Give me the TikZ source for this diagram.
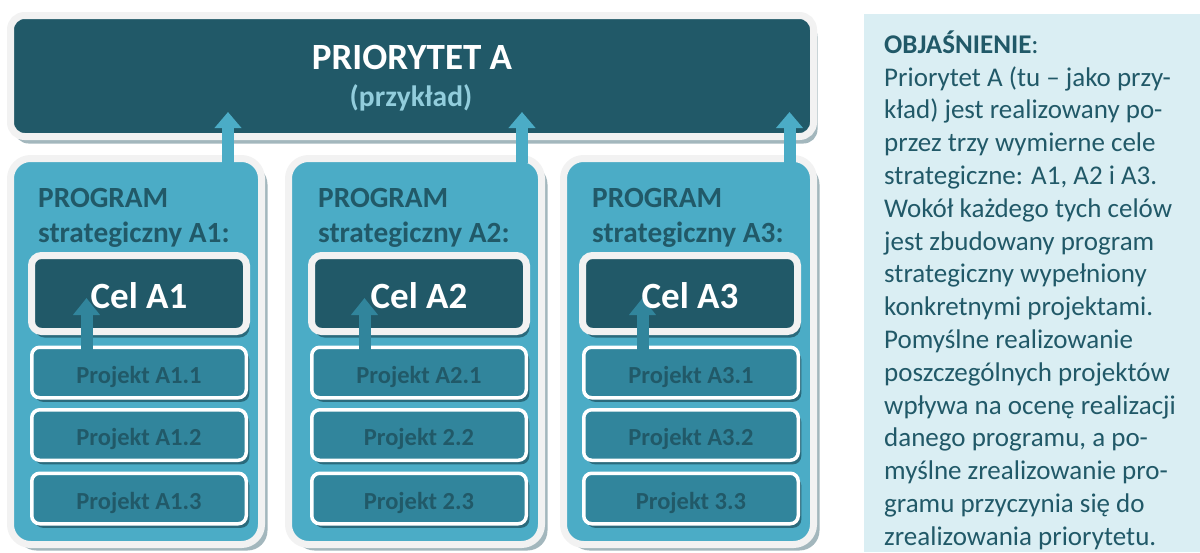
\documentclass[tikz,border=0pt]{standalone}
\usepackage{fontspec}
\setmainfont{Carlito}
\usetikzlibrary{arrows.meta,shadows}
\definecolor{dark}{HTML}{215968}
\definecolor{prog}{HTML}{4BACC6}
\definecolor{proj}{HTML}{31859C}
\definecolor{rim}{HTML}{F2F2F2}
\definecolor{panelbg}{HTML}{DAEEF3}
\definecolor{lightt}{HTML}{92CDDC}
\definecolor{shade}{HTML}{A3B7BD}
\definecolor{shadedk}{HTML}{2A6A7C}
\begin{document}
\begin{tikzpicture}[x=1pt,y=-1pt,
  prio/.style={draw=rim, line width=7pt, fill=dark, rounded corners=14pt,
    minimum width=803pt, minimum height=121pt, inner sep=0pt, outer sep=0pt,
    drop shadow={shadow xshift=4pt, shadow yshift=-7pt, fill=shade, opacity=1}},
  progbox/.style={draw=rim, line width=7pt, fill=prog, rounded corners=20pt,
    minimum height=386pt, inner sep=0pt, outer sep=0pt,
    drop shadow={shadow xshift=6pt, shadow yshift=-6pt, fill=shade, opacity=1}},
  celbox/.style={draw=rim, line width=7pt, fill=dark, rounded corners=10pt,
    minimum width=215pt, minimum height=76pt, inner sep=0pt, outer sep=0pt,
    drop shadow={shadow xshift=3pt, shadow yshift=-6pt, fill=shadedk, opacity=1}},
  projbox/.style={draw=white, line width=3.5pt, fill=proj, rounded corners=8pt,
    minimum width=214.5pt, minimum height=50.5pt, inner sep=0pt, outer sep=0pt,
    text height=21pt, text depth=0pt, text=dark,
    font=\fontsize{24.5}{28}\selectfont\bfseries,
    drop shadow={shadow xshift=3pt, shadow yshift=-4pt, fill=shadedk, opacity=1}},
  celtext/.style={text=white, font=\fontsize{37}{40}\selectfont\bfseries,
    text height=29pt, text depth=0pt, inner sep=0pt},
  progtext/.style={anchor=base west, text=dark, inner sep=0pt,
    font=\fontsize{29.3}{32}\selectfont\bfseries},
  bigarrow/.style={draw=prog, line width=12pt,
    -{Triangle[width=26pt,length=16pt]}, shorten <=-4pt},
  smallarrow/.style={draw=proj, line width=12pt,
    -{Triangle[width=26pt,length=17pt]}, shorten <=-3pt}
]
\useasboundingbox (0,0) rectangle (1200,552);

% right explanation panel
\node[fill=panelbg, minimum width=336pt, minimum height=538pt, inner sep=0pt,
  anchor=north west] (panel) at (864,14) {};
\node[anchor=north west, align=left, inner sep=0pt, text=dark,
  font=\fontsize{27}{32.8}\selectfont] (expl) at (884,30.5) {%
\textbf{OBJAŚNIENIE}:\\
Priorytet A (tu – jako przy-\\
kład) jest realizowany po-\\
przez trzy wymierne cele\\
strategiczne: A1, A2 i A3.\\
Wokół każdego tych celów\\
jest zbudowany program\\
strategiczny wypełniony\\
konkretnymi projektami.\\
Pomyślne realizowanie\\
poszczególnych projektów\\
wpływa na ocenę realizacji\\
danego programu, a po-\\
myślne zrealizowanie pro-\\
gramu przyczynia się do\\
zrealizowania priorytetu.};

% priority box
\node[prio] (prio) at (412,76) {};
\node[anchor=base, text=white, inner sep=0pt,
  font=\fontsize{37}{40}\selectfont\bfseries] (ptitle) at (412,69) {PRIORYTET A};
\node[anchor=base, text=lightt, inner sep=0pt,
  font=\fontsize{29.5}{32}\selectfont\bfseries] (psub) at (411,106) {(przykład)};

% program boxes
\node[progbox, minimum width=251pt] (p1) at (136,351.5) {};
\node[progbox, minimum width=253pt] (p2) at (415,351.5) {};
\node[progbox, minimum width=250pt] (p3) at (688.5,351.5) {};

\node[progtext] (p1a) at (38,207) {PROGRAM};
\node[progtext] (p1b) at (38,242) {strategiczny A1:};
\node[progtext] (p2a) at (318,207) {PROGRAM};
\node[progtext] (p2b) at (318,242) {strategiczny A2:};
\node[progtext] (p3a) at (592,207) {PROGRAM};
\node[progtext] (p3b) at (592,242) {strategiczny A3:};

% goal boxes
\node[celbox] (c1) at (139,293.5) {};
\node[celbox] (c2) at (419,293.5) {};
\node[celbox] (c3) at (690,293.5) {};

% project boxes
\node[projbox] (r11) at (139,372.5) {Projekt A1.1};
\node[projbox] (r12) at (139,435) {Projekt A1.2};
\node[projbox] (r13) at (139,498.5) {Projekt A1.3};
\node[projbox] (r21) at (419,372.5) {Projekt A2.1};
\node[projbox] (r22) at (419,435) {Projekt 2.2};
\node[projbox] (r23) at (419,498.5) {Projekt 2.3};
\node[projbox] (r31) at (691,372.5) {Projekt A3.1};
\node[projbox] (r32) at (691,435) {Projekt A3.2};
\node[projbox] (r33) at (691,498.5) {Projekt 3.3};

% arrow tips
\coordinate (a1t) at (228,112);
\coordinate (a2t) at (522,112);
\coordinate (a3t) at (789.5,112);
\coordinate (s1t) at (86.5,298);
\coordinate (s2t) at (364.5,298);
\coordinate (s3t) at (642.5,298);

% arrows program -> priority
\draw[bigarrow] (p1.north -| a1t) -- (a1t);
\draw[bigarrow] (p2.north -| a2t) -- (a2t);
\draw[bigarrow] (p3.north -| a3t) -- (a3t);

% arrows project -> goal
\draw[smallarrow] (r11.north -| s1t) -- (s1t);
\draw[smallarrow] (r21.north -| s2t) -- (s2t);
\draw[smallarrow] (r31.north -| s3t) -- (s3t);

% goal texts
\node[celtext] (c1t) at (c1.center) {Cel A1};
\node[celtext] (c2t) at (c2.center) {Cel A2};
\node[celtext] (c3t) at (c3.center) {Cel A3};
\end{tikzpicture}
\end{document}
